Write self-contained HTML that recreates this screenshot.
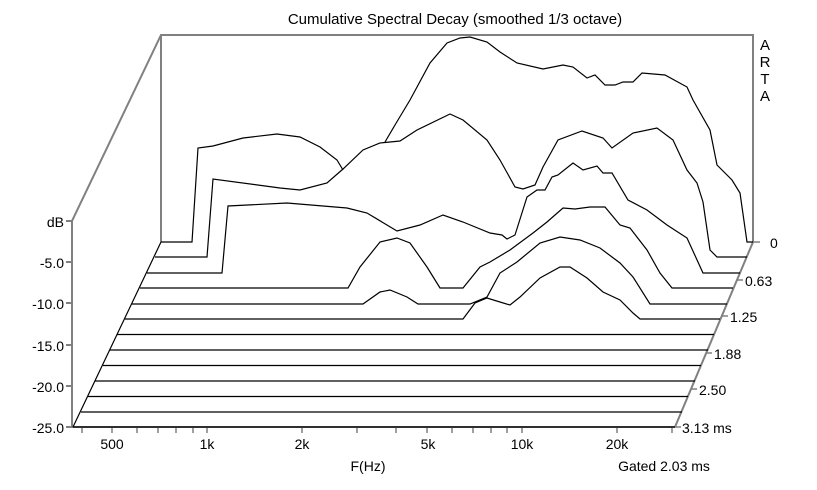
<!DOCTYPE html>
<html><head><meta charset="utf-8"><style>
body{margin:0;background:#fff;}
svg{display:block;font-family:"Liberation Sans",sans-serif;}
</style></head><body>
<svg width="817" height="490" viewBox="0 0 817 490" xmlns="http://www.w3.org/2000/svg">
<rect width="817" height="490" fill="#fff"/>
<text x="455" y="24" font-size="15" text-anchor="middle">Cumulative Spectral Decay (smoothed 1/3 octave)</text>
<g font-size="15" text-anchor="middle"><text x="765" y="50">A</text><text x="765" y="67">R</text><text x="765" y="84">T</text><text x="765" y="101">A</text></g>
<g stroke="#808080" stroke-width="2" fill="none">
<polyline points="72,427 72,221 161,35 753,35 753,242"/>
<line x1="161" y1="35" x2="161" y2="242"/>
<line x1="753" y1="242" x2="675" y2="427"/>
<line x1="72" y1="427" x2="675" y2="427"/>
<line x1="66" y1="221" x2="72" y2="221"/><line x1="66" y1="262" x2="72" y2="262"/><line x1="66" y1="303" x2="72" y2="303"/><line x1="66" y1="345" x2="72" y2="345"/><line x1="66" y1="386" x2="72" y2="386"/><line x1="66" y1="427" x2="72" y2="427"/>
</g>
<g stroke="#808080" stroke-width="1.5">
<line x1="82" y1="427" x2="82" y2="433"/><line x1="112" y1="427" x2="112" y2="433"/><line x1="137" y1="427" x2="137" y2="433"/><line x1="158" y1="427" x2="158" y2="433"/><line x1="176" y1="427" x2="176" y2="433"/><line x1="193" y1="427" x2="193" y2="433"/><line x1="207" y1="427" x2="207" y2="433"/><line x1="302" y1="427" x2="302" y2="433"/><line x1="357" y1="427" x2="357" y2="433"/><line x1="396" y1="427" x2="396" y2="433"/><line x1="427" y1="427" x2="427" y2="433"/><line x1="452" y1="427" x2="452" y2="433"/><line x1="473" y1="427" x2="473" y2="433"/><line x1="491" y1="427" x2="491" y2="433"/><line x1="507" y1="427" x2="507" y2="433"/><line x1="522" y1="427" x2="522" y2="433"/><line x1="617" y1="427" x2="617" y2="433"/><line x1="672" y1="427" x2="672" y2="433"/>
<line x1="753" y1="242" x2="760" y2="242"/><line x1="737" y1="280" x2="743" y2="280"/><line x1="722" y1="316" x2="728" y2="316"/><line x1="706" y1="353" x2="712" y2="353"/><line x1="691" y1="389" x2="697" y2="389"/><line x1="675" y1="427" x2="681" y2="427"/>
</g>
<g font-size="14" text-anchor="end">
<text x="64" y="227">dB</text><text x="64" y="268">-5.0</text><text x="64" y="309">-10.0</text><text x="64" y="351">-15.0</text><text x="64" y="392">-20.0</text><text x="64" y="433">-25.0</text>
</g>
<g font-size="14">
<text x="770" y="248">0</text><text x="745" y="286">0.63</text><text x="730" y="322">1.25</text><text x="714" y="359">1.88</text><text x="699" y="395">2.50</text><text x="682" y="433">3.13 ms</text>
</g>
<g font-size="14" text-anchor="middle">
<text x="112" y="449">500</text><text x="207" y="449">1k</text><text x="302" y="449">2k</text><text x="428" y="449">5k</text><text x="522" y="449">10k</text><text x="617" y="449">20k</text>
<text x="368" y="471">F(Hz)</text><text x="664" y="471">Gated 2.03 ms</text>
</g>
<g stroke="#000" stroke-width="1.2" fill="none">
<line x1="161" y1="242" x2="73" y2="427"/>
<polyline points="161,242 192,242 198,148 213,146 243,138 277,134 300,137 320,147 337,160 343,170"/>
<polyline points="385,142 395,125 410,100 430,63 447,43 460,38 470,37 487,42 500,52 517,63 543,69 563,65 573,67 587,78 595,75 605,85 615,85 623,82 633,82 642,73 665,75 687,87 693,100 710,130 717,165 732,180 740,193 747,242 753,242"/>
<polyline points="155,257 207,257 213,179 280,188 300,190 327,183 343,169 363,150 380,143 400,141 417,130 450,114 463,120 487,140 500,160 515,187 523,189 535,185 543,167 558,140 582,131 603,138 612,148 633,133 657,128 673,140 687,170 697,183 703,202 710,250 717,257 747,257"/>
<polyline points="147,273 222,273 228,206 287,203 347,208 367,213 397,231 420,225 443,215 463,222 490,233 502,235 507,239 515,235 527,197 537,190 545,190 552,177 558,175 573,163 583,170 597,166 603,173 612,173 628,200 647,210 667,225 687,238 703,273 740,273"/>
<polyline points="140,288 348,288 360,267 380,242 397,238 410,243 427,267 440,288 463,288 480,267 490,262 510,250 533,233 547,222 563,208 575,209 590,207 605,207 620,225 630,228 647,250 660,273 672,288 733,288"/>
<polyline points="132,304 363,304 380,292 390,290 407,297 418,304 470,304 487,297 500,273 517,262 540,243 560,237 580,240 600,248 620,263 633,277 650,304 727,304"/>
<polyline points="125,319 463,319 475,303 487,298 500,302 510,305 520,297 540,278 560,267 570,267 587,278 603,292 620,300 633,313 640,319 720,319"/>
<line x1="117" y1="334.5" x2="714" y2="334.5"/>
<line x1="110" y1="350" x2="708" y2="350"/>
<line x1="103" y1="365.5" x2="701" y2="365.5"/>
<line x1="95" y1="381" x2="695" y2="381"/>
<line x1="88" y1="396.5" x2="688" y2="396.5"/>
<line x1="81" y1="412" x2="682" y2="412"/>
<line x1="73" y1="427" x2="675" y2="427"/>
</g>
</svg>
</body></html>
